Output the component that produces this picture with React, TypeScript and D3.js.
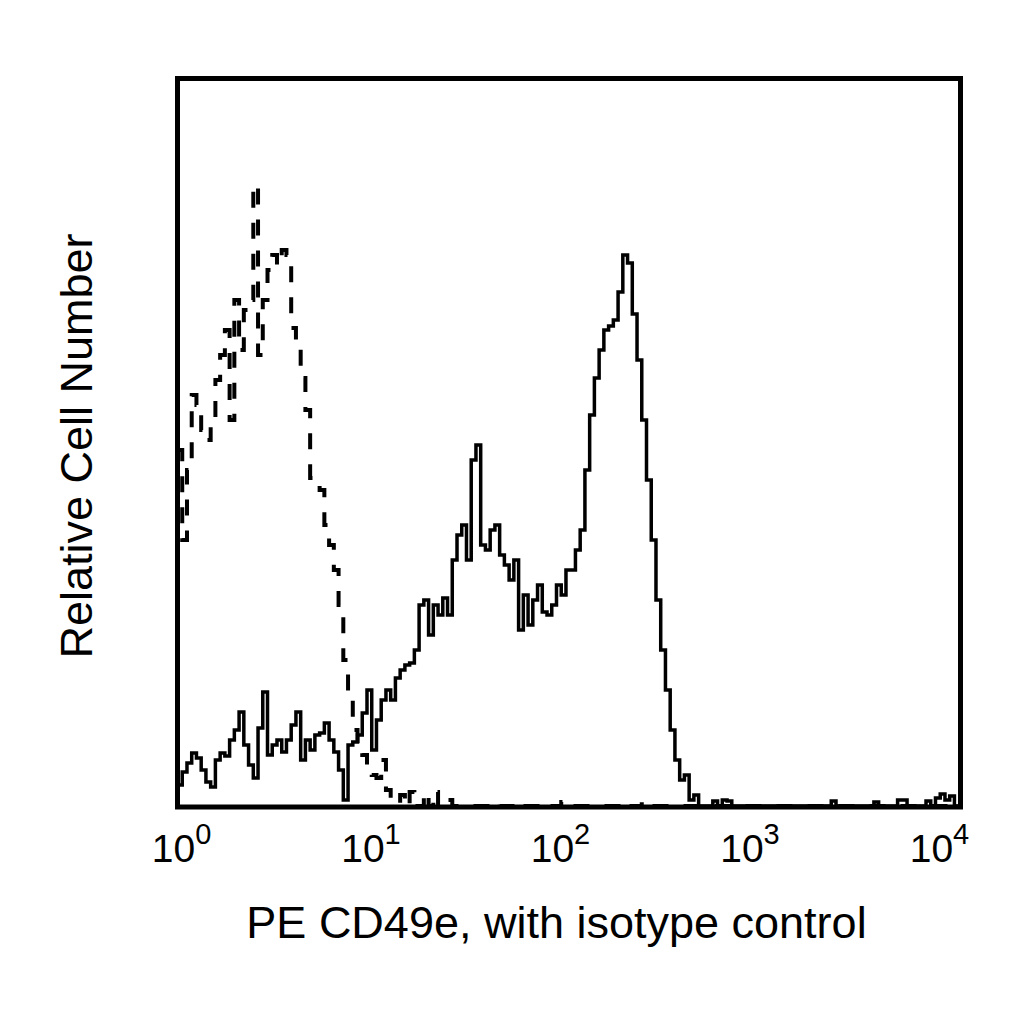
/**
 * Flow cytometry overlay histogram: PE CD49e (solid) vs isotype control (dashed).
 * Log x axis 10^0..10^4, bins of 1/40 decade, step curves.
 */
import React, { useRef, useEffect } from 'react';
import * as d3 from 'd3';

const WIDTH = 1024;
const HEIGHT = 1024;
const BOX = { left: 177.5, right: 960.5, top: 78.5, bottom: 807 };
const ZERO_Y = 806;
const Y_MAX = 729;
const BINS_PER_DECADE = 40;
const N_BINS = 166;
const X_MAX_DECADES = 4.132;

const tickExponents = [0, 1, 2, 3, 4];

// Stained sample, counts per bin from bin 0 (10^0) upward
const cd49eCounts = [
  21, 34, 43, 53, 48, 36, 24, 19, 46, 53,
  50, 66, 76, 94, 61, 41, 28, 78, 114, 51,
  61, 66, 54, 66, 81, 94, 46, 66, 56, 71,
  73, 83, 66, 54, 36, 6, 61, 64, 71, 93,
  116, 56, 86, 106, 116, 106, 128, 136, 141, 143,
  156, 201, 206, 171, 201, 191, 208, 191, 246, 271,
  281, 246, 346, 361, 261, 256, 276, 281, 251, 241,
  226, 246, 176, 211, 181, 206, 221, 194, 191, 201,
  221, 211, 236, 236, 256, 276, 336, 391, 428, 456,
  476, 480, 486, 514, 551, 543, 492, 446, 386, 326,
  266, 206, 156, 116, 76, 46, 26, 31, 6, 11,
];
// sparse events in the high tail: [bin, count]
const cd49eTail: [number, number][] = [
  [113, 5], [115, 6], [116, 5], [138, 5], [147, 4], [152, 6], [153, 6],
  [158, 5], [160, 8], [161, 12], [162, 6], [163, 10],
];

// Isotype control
const isotypeCounts = [
  356, 266, 336, 411, 401, 376, 366, 386, 426, 451,
  476, 386, 506, 456, 496, 506, 621, 451, 506, 536,
  551, 541, 556, 551, 478, 466, 428, 396, 328, 321,
  316, 281, 261, 236, 201, 146, 106, 76, 61, 51,
  41, 31, 28, 46, 16, 6, 3, 11, 0, 14,
  0, 0, 13, 0, 14, 0, 0, 6,
];
const isotypeTail: [number, number][] = [
  [67, 3], [72, 3], [76, 2], [81, 4], [94, 3], [98, 4],
];

const fullBins = (counts: number[], tail: [number, number][]) => {
  const out = d3.range(N_BINS).map((k) => (k < counts.length ? counts[k] : 0));
  tail.forEach(([k, c]) => { out[k] = c; });
  return out;
};

export default function App() {
  const svgRef = useRef<SVGSVGElement>(null);

  useEffect(() => {
    if (!svgRef.current) return;
    const svg = d3.select(svgRef.current);
    svg.selectAll('*').remove();

    const x = d3.scaleLog().domain([1, Math.pow(10, X_MAX_DECADES)]).range([BOX.left, BOX.right]);
    const y = d3.scaleLinear().domain([0, Y_MAX]).range([ZERO_Y, ZERO_Y - Y_MAX]);

    const edge = (k: number) => Math.pow(10, k / BINS_PER_DECADE);

    const toPoints = (bins: number[]): [number, number][] => {
      const pts: [number, number][] = bins.map((c, k) => [x(edge(k)), y(c)]);
      pts.push([x(edge(bins.length)), y(bins[bins.length - 1])]);
      return pts;
    };

    const line = d3.line().curve(d3.curveStepAfter);

    svg.append('rect').attr('width', WIDTH).attr('height', HEIGHT).attr('fill', '#ffffff');

    svg.append('clipPath').attr('id', 'plot-clip')
      .append('rect')
      .attr('x', BOX.left)
      .attr('y', BOX.top)
      .attr('width', BOX.right - BOX.left)
      .attr('height', BOX.bottom - BOX.top);

    const plot = svg.append('g').attr('clip-path', 'url(#plot-clip)');

    plot.append('path')
      .attr('d', line(toPoints(fullBins(isotypeCounts, isotypeTail))) ?? '')
      .attr('fill', 'none')
      .attr('stroke', '#000')
      .attr('stroke-width', 4)
      .attr('stroke-dasharray', '16,15');

    plot.append('path')
      .attr('d', line(toPoints(fullBins(cd49eCounts, cd49eTail))) ?? '')
      .attr('fill', 'none')
      .attr('stroke', '#000')
      .attr('stroke-width', 3.5);

    // frame
    svg.append('rect')
      .attr('x', BOX.left)
      .attr('y', BOX.top)
      .attr('width', BOX.right - BOX.left)
      .attr('height', BOX.bottom - BOX.top)
      .attr('fill', 'none')
      .attr('stroke', '#000')
      .attr('stroke-width', 5);

    const font = 'Liberation Sans, Arial, Helvetica, sans-serif';

    // 10^n tick labels
    tickExponents.forEach((e) => {
      const t = svg.append('text')
        .attr('x', x(Math.pow(10, e)) + 4)
        .attr('y', 862)
        .attr('text-anchor', 'middle')
        .attr('font-family', font)
        .attr('fill', '#000');
      t.append('tspan').attr('font-size', 39).text('10');
      t.append('tspan').attr('font-size', 29).attr('dy', -18).text(String(e));
    });

    svg.append('text')
      .attr('x', 556.5)
      .attr('y', 938)
      .attr('text-anchor', 'middle')
      .attr('font-family', font)
      .attr('font-size', 45)
      .attr('fill', '#000')
      .text('PE CD49e, with isotype control');

    svg.append('text')
      .attr('transform', 'translate(92, 446) rotate(-90)')
      .attr('text-anchor', 'middle')
      .attr('font-family', font)
      .attr('font-size', 45)
      .attr('fill', '#000')
      .text('Relative Cell Number');
  }, []);

  return (
    <svg
      ref={svgRef}
      width={WIDTH}
      height={HEIGHT}
      viewBox={`0 0 ${WIDTH} ${HEIGHT}`}
      style={{ position: 'absolute', left: 0, top: 0, display: 'block' }}
    />
  );
}
